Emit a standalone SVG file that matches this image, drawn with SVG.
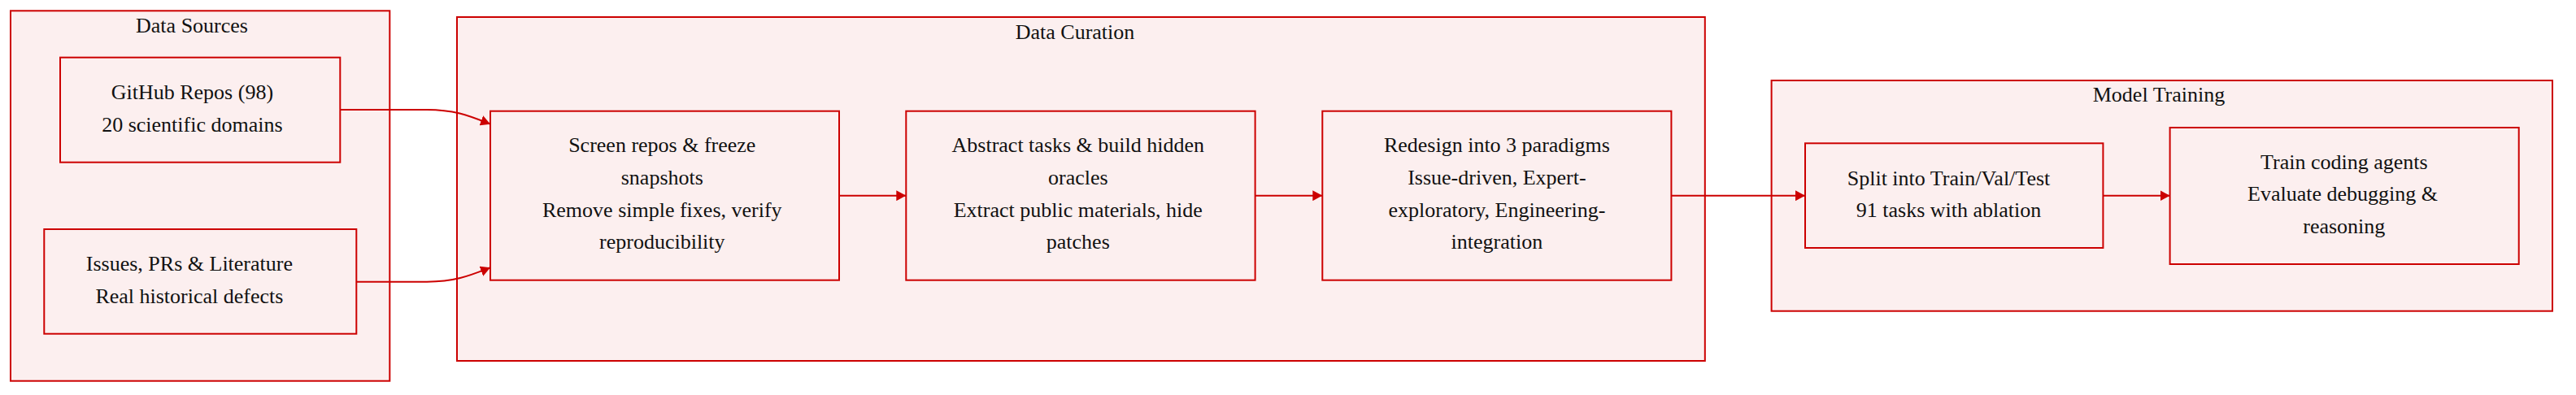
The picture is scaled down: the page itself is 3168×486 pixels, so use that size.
<svg xmlns="http://www.w3.org/2000/svg" width="3168" height="486" viewBox="0 0 3168 486">
<style>
.cl{fill:#fcefef;stroke:#cc0000;stroke-width:2}
.nd{fill:#fcefef;stroke:#cc0000;stroke-width:2}
.t{font-family:"Liberation Serif","Times New Roman",serif;font-size:26px;fill:#111;text-anchor:middle}
.e{fill:none;stroke:#cc0000;stroke-width:2}
</style>
<defs>
<marker id="arr" viewBox="0 0 12 13" refX="12" refY="6.5" markerUnits="userSpaceOnUse" markerWidth="12" markerHeight="13" orient="auto">
<path d="M0,0 L12,6.5 L0,13 z" fill="#cc0000"/>
</marker>
</defs>
<g id="cluster-sources">
<rect class="cl" x="13" y="13.3" width="466.3" height="455.4"/>
<text class="t" x="236" y="39.5">Data Sources</text>
</g>
<g id="cluster-curation">
<rect class="cl" x="562" y="21" width="1534.8" height="423"/>
<text class="t" x="1322" y="48">Data Curation</text>
</g>
<g id="cluster-training">
<rect class="cl" x="2178.6" y="99" width="960.4" height="283.7"/>
<text class="t" x="2655" y="124.5">Model Training</text>
</g>
<g id="node-github">
<rect class="nd" x="74" y="70.7" width="344.3" height="129"/>
<text class="t" x="236.4" y="121.7">GitHub Repos (98)</text>
<text class="t" x="236.4" y="161.7">20 scientific domains</text>
</g>
<g id="node-issues">
<rect class="nd" x="54.3" y="282" width="384" height="128.7"/>
<text class="t" x="232.9" y="332.7">Issues, PRs &amp; Literature</text>
<text class="t" x="232.9" y="372.7">Real historical defects</text>
</g>
<g id="node-screen">
<rect class="nd" x="603" y="136.7" width="429" height="208"/>
<text class="t" x="814.3" y="187.3">Screen repos &amp; freeze</text>
<text class="t" x="814.3" y="227">snapshots</text>
<text class="t" x="814.3" y="266.7">Remove simple fixes, verify</text>
<text class="t" x="814.3" y="306.3">reproducibility</text>
</g>
<g id="node-abstract">
<rect class="nd" x="1114.3" y="136.7" width="429.3" height="208"/>
<text class="t" x="1325.8" y="187.3">Abstract tasks &amp; build hidden</text>
<text class="t" x="1325.8" y="227">oracles</text>
<text class="t" x="1325.8" y="266.7">Extract public materials, hide</text>
<text class="t" x="1325.8" y="306.3">patches</text>
</g>
<g id="node-redesign">
<rect class="nd" x="1626.3" y="136.7" width="429.1" height="208"/>
<text class="t" x="1840.9" y="187.3">Redesign into 3 paradigms</text>
<text class="t" x="1840.9" y="227">Issue-driven, Expert-</text>
<text class="t" x="1840.9" y="266.7">exploratory, Engineering-</text>
<text class="t" x="1840.9" y="306.3">integration</text>
</g>
<g id="node-split">
<rect class="nd" x="2220" y="176.3" width="366.4" height="128.7"/>
<text class="t" x="2396.5" y="227.7">Split into Train/Val/Test</text>
<text class="t" x="2396.5" y="267.3">91 tasks with ablation</text>
</g>
<g id="node-train">
<rect class="nd" x="2668.6" y="157" width="429.1" height="168"/>
<text class="t" x="2882.8" y="207.7">Train coding agents</text>
<text class="t" x="2881" y="247.3">Evaluate debugging &amp;</text>
<text class="t" x="2882.8" y="287">reasoning</text>
</g>
<g id="connectors">
<path class="e" marker-end="url(#arr)" d="M418.3,135 L525,135 C560,135 578,143 603,152.7"/>
<path class="e" marker-end="url(#arr)" d="M438.3,346.7 L525,346.7 C560,346.7 578,339 603,329.3"/>
<path class="e" marker-end="url(#arr)" d="M1032,240.7 L1114.3,240.7"/>
<path class="e" marker-end="url(#arr)" d="M1543.6,240.7 L1626.3,240.7"/>
<path class="e" marker-end="url(#arr)" d="M2055.4,240.7 L2220,240.7"/>
<path class="e" marker-end="url(#arr)" d="M2586.4,240.7 L2668.6,240.7"/>
</g>
</svg>
